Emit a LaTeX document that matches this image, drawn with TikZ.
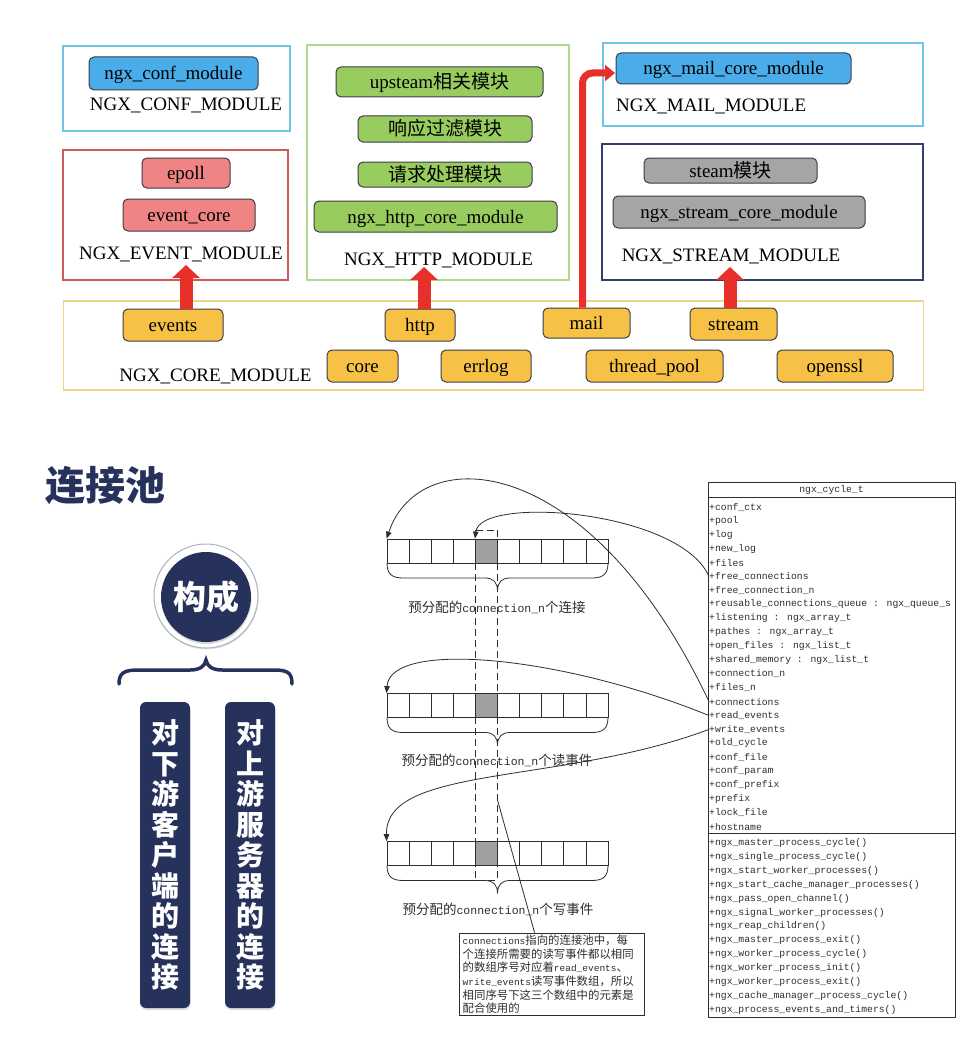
\documentclass[tikz,border=0pt]{standalone}
\usepackage{fontspec}
\setmainfont{Liberation Serif}
\newfontfamily\cjk{Noto Sans CJK SC}
\newfontfamily\monofont{Liberation Mono}
\usetikzlibrary{arrows.meta,shadows}
\definecolor{navy}{HTML}{27325C}
\definecolor{confborder}{HTML}{72C3E6}
\definecolor{evborder}{HTML}{D05A5A}
\definecolor{httpborder}{HTML}{B3D98F}
\definecolor{strborder}{HTML}{33406E}
\definecolor{coreborder}{HTML}{F3D28A}
\definecolor{bluefill}{HTML}{4AADE9}
\definecolor{pinkfill}{HTML}{F08484}
\definecolor{greenfill}{HTML}{98CC5E}
\definecolor{grayfill}{HTML}{A5A5A5}
\definecolor{orangefill}{HTML}{F6C144}
\definecolor{arrred}{HTML}{E8302A}
\definecolor{boxline}{HTML}{3C3C4C}
\definecolor{inkgray}{HTML}{2E2E2E}
\definecolor{cellgray}{HTML}{A0A0A0}
\definecolor{ringgray}{HTML}{AAB0C4}
\newcommand{\mcode}[1]{{\monofont\fontsize{9.5}{13.7}\selectfont #1}}
\newcommand{\mlbl}[1]{{\monofont\fontsize{11.5}{14}\selectfont #1}}
\tikzset{
  sz/.style 2 args={minimum width=#1pt,minimum height=#2pt},
  cont/.style={draw, line width=1.1pt, inner sep=0pt},
  mbox/.style={rounded corners=5pt, draw=boxline, line width=1pt, inner sep=0pt,
    text height=14.5pt, text depth=1.5pt, font=\fontsize{19}{21}\selectfont},
  modlbl/.style={inner sep=0pt, text height=14.5pt, text depth=1.5pt,
    font=\fontsize{19}{21}\selectfont},
  bigred/.style={draw=arrred, line width=13pt, -{Triangle[width=27pt,length=13pt]}},
  thinred/.style={draw=arrred, line width=7pt, rounded corners=10pt,
    -{Triangle[width=16pt,length=10pt]}},
  cell/.style={draw=inkgray, line width=0.8pt, inner sep=0pt, sz={22.1}{24}},
  ptr/.style={draw=inkgray, line width=0.8pt, -{Triangle[width=5.5pt,length=7pt]}},
  dashline/.style={draw=inkgray, line width=0.8pt, dash pattern=on 7pt off 4pt},
  row/.style={anchor=west, inner sep=0pt, text=inkgray,
    font=\monofont\fontsize{9.75}{11}\selectfont},
  arrlbl/.style={inner sep=0pt, text=inkgray, font=\cjk\fontsize{13.5}{15}\selectfont},
  vbox/.style={rounded corners=6pt, fill=navy, sz={50}{306}, inner sep=0pt,
    drop shadow={opacity=0.25, shadow xshift=0.5pt, shadow yshift=-2pt}},
  vtxt/.style={text=white, align=center, inner sep=0pt,
    font=\cjk\bfseries\fontsize{28}{30.5}\selectfont},
}
\begin{document}
\begin{tikzpicture}[x=1pt,y=-1pt]
\useasboundingbox (0,0) rectangle (978,1054);
\fill[white] (0,0) rectangle (978,1054);

% ---------------- top: module containers ----------------
\node[cont, draw=confborder, sz={227}{85}] (confbox) at (176.5,88.5) {};
\node[mbox, fill=bluefill, sz={169}{33}] (confm) at (173.5,73.5) {ngx\_conf\_module};
\node[modlbl] (conflbl) at (186,104) {NGX\_CONF\_MODULE};

\node[cont, draw=evborder, sz={225}{130}] (evbox) at (175.5,215) {};
\node[mbox, fill=pinkfill, sz={88}{30}] (epoll) at (186,173) {epoll};
\node[mbox, fill=pinkfill, sz={132}{32}] (evcore) at (189,215) {event\_core};
\node[modlbl] (evlbl) at (181,253) {NGX\_EVENT\_MODULE};

\node[cont, draw=httpborder, sz={262}{235}] (httpbox) at (438,162.5) {};
\node[mbox, fill=greenfill, sz={207}{30}] (upst) at (439.5,82) {upsteam{\cjk 相关模块}};
\node[mbox, fill=greenfill, sz={174}{26}] (resp) at (445,129) {{\cjk 响应过滤模块}};
\node[mbox, fill=greenfill, sz={174}{25}] (reqm) at (445,174.5) {{\cjk 请求处理模块}};
\node[mbox, fill=greenfill, sz={243}{31}] (httpcore) at (435.5,216.5) {ngx\_http\_core\_module};
\node[modlbl] (httplbl) at (438.5,259) {NGX\_HTTP\_MODULE};

\node[cont, draw=confborder, sz={320}{83}] (mailbox) at (763,84.5) {};
\node[mbox, fill=bluefill, sz={235}{31}] (mailcore) at (733.5,68.5) {ngx\_mail\_core\_module};
\node[modlbl, anchor=west] (maillbl) at (616,105) {NGX\_MAIL\_MODULE};

\node[cont, draw=strborder, sz={321}{136}] (strbox) at (762.5,212) {};
\node[mbox, fill=grayfill, sz={173}{25}] (steam) at (730.5,170.5) {steam{\cjk 模块}};
\node[mbox, fill=grayfill, sz={252}{32}] (strcore) at (739,212) {ngx\_stream\_core\_module};
\node[modlbl] (strlbl) at (731,255) {NGX\_STREAM\_MODULE};

\node[cont, draw=coreborder, sz={860}{89}] (corebox) at (493.5,345.5) {};
\node[mbox, fill=orangefill, sz={100}{32}] (events) at (173,325) {events};
\node[mbox, fill=orangefill, sz={70}{32}] (http) at (420,325) {http};
\node[mbox, fill=orangefill, sz={87}{30}] (mail) at (586.5,323) {mail};
\node[mbox, fill=orangefill, sz={87}{32}] (stream) at (733.5,324) {stream};
\node[mbox, fill=orangefill, sz={71}{32}] (core) at (362.5,366) {core};
\node[mbox, fill=orangefill, sz={90}{32}] (errlog) at (486,366) {errlog};
\node[mbox, fill=orangefill, sz={137}{32}] (tpool) at (654.5,366) {thread\_pool};
\node[mbox, fill=orangefill, sz={116}{32}] (openssl) at (835,366) {openssl};
\node[modlbl] (corelbl) at (215.5,375) {NGX\_CORE\_MODULE};

% red arrows
\coordinate (evtip) at (186,265);
\coordinate (httip) at (424,267);
\coordinate (sttip) at (730,267);
\coordinate (mailbend) at (582.5,73);
\coordinate (mailtip) at (615,73);
\draw[bigred] (events.north -| evtip) -- (evtip);
\draw[bigred] (http.north -| httip) -- (httip);
\draw[bigred] (stream.north -| sttip) -- (sttip);
\draw[thinred] (mail.north -| mailbend) -- (mailbend) -- (mailtip);

% ---------------- bottom left ----------------
\node[inner sep=0pt, text=navy, font=\cjk\bfseries\fontsize{40}{44}\selectfont] (title) at (105,486) {连接池};
\node[circle, draw=ringgray, line width=1pt, fill=white, minimum size=104pt,
  drop shadow={opacity=0.2, shadow xshift=0.5pt, shadow yshift=-1.5pt}] (ring) at (206,596) {};
\node[circle, fill=navy, minimum size=90pt, inner sep=0pt, text=white,
  font=\cjk\bfseries\fontsize{33}{36}\selectfont,
  drop shadow={opacity=0.3, shadow xshift=0.5pt, shadow yshift=-2pt}] (gouc) at (206,597) {构成};
\draw[navy, line width=3.5pt, line cap=round]
  (119,684) .. controls (119,673) and (124,670) .. (138,670) -- (190,670)
  .. controls (200,670) and (205,666) .. (206,660)
  .. controls (207,666) and (212,670) .. (222,670) -- (274,670)
  .. controls (288,670) and (292,673) .. (292,684);
\node[vbox] (down) at (165,855) {};
\node[vtxt] (downt) at (165,855) {对\\下\\游\\客\\户\\端\\的\\连\\接};
\node[vbox] (up) at (250,855) {};
\node[vtxt] (upt) at (250,855) {对\\上\\游\\服\\务\\器\\的\\连\\接};

% ---------------- bottom middle: arrays ----------------
\foreach \a/\yy in {1/551,2/705.5,3/853.5}{
  \foreach \i in {0,...,9}{
    \ifnum\i=4 \def\cf{cellgray}\else\def\cf{white}\fi
    \node[cell, fill=\cf] (c\a-\i) at ({387+22.1*(\i+0.5)},\yy) {};
  }
}
\foreach \yb in {563,717.5,865.5}{
  \draw[inkgray, line width=0.8pt]
    (387,\yb) .. controls (387,\yb+11) and (392,\yb+15) .. (403,\yb+15) -- (485,\yb+15)
    .. controls (493,\yb+15) and (497.5,\yb+19) .. (497.5,\yb+28)
    .. controls (497.5,\yb+19) and (502,\yb+15) .. (510,\yb+15) -- (592,\yb+15)
    .. controls (603,\yb+15) and (608,\yb+11) .. (608,\yb);
}
\node[arrlbl] (lab1) at (497,607) {预分配的\mlbl{connection\_n}个连接};
\node[arrlbl] (lab2) at (497,760) {预分配的\mlbl{connection\_n}个读事件};
\node[arrlbl] (lab3) at (498,909) {预分配的\mlbl{connection\_n}个写事件};

\coordinate (dtl) at (475.4,530);
\coordinate (dbr) at (497.5,880);
\draw[dashline] (dtl) rectangle (dbr);

% ---------------- ngx_cycle_t ----------------
\node[draw=inkgray, line width=1pt, sz={247}{535}, inner sep=0pt] (cyc) at (831.5,749.5) {};
\path (cyc.north west) ++(0,16) coordinate (h1);
\path (cyc.north west) ++(0,352) coordinate (h2);
\draw[inkgray, line width=1pt] (h1) -- (h1 -| cyc.east);
\draw[inkgray, line width=1pt] (h2) -- (h2 -| cyc.east);
\node[inner sep=0pt, text=inkgray, font=\monofont\fontsize{9.75}{11}\selectfont] (cyct) at (831.5,490) {ngx\_cycle\_t};
\foreach \t [count=\i from 0] in {conf\_ctx, pool, log, new\_log, files, free\_connections,
  free\_connection\_n, reusable\_connections\_queue : ngx\_queue\_s, listening : ngx\_array\_t,
  pathes : ngx\_array\_t, open\_files : ngx\_list\_t, shared\_memory : ngx\_list\_t,
  connection\_n, files\_n, connections, read\_events, write\_events, old\_cycle, conf\_file,
  conf\_param, conf\_prefix, prefix, lock\_file, hostname}{
  \node[row] (r\i) at (709,{507+13.9*\i}) {+\t};
}
\foreach \t [count=\i from 0] in {ngx\_master\_process\_cycle(), ngx\_single\_process\_cycle(),
  ngx\_start\_worker\_processes(), ngx\_start\_cache\_manager\_processes(),
  ngx\_pass\_open\_channel(), ngx\_signal\_worker\_processes(), ngx\_reap\_children(),
  ngx\_master\_process\_exit(), ngx\_worker\_process\_cycle(), ngx\_worker\_process\_init(),
  ngx\_worker\_process\_exit(), ngx\_cache\_manager\_process\_cycle(),
  ngx\_process\_events\_and\_timers()}{
  \node[row] (m\i) at (709,{843+13.9*\i}) {+\t};
}

% connectors from ngx_cycle_t to arrays
\draw[ptr] (r5.west) .. controls (680,510) and (480,495) .. (c1-4.north west);
\draw[ptr] (r14.west) .. controls (590,450) and (420,440) .. (c1-0.north west);
\draw[ptr] (r15.west) .. controls (560,655) and (390,640) .. (c2-0.north west);
\draw[ptr] (r16.west) .. controls (560,785) and (385,765) .. (c3-0.north west);

% annotation
\node[draw=inkgray, line width=0.9pt, sz={185}{82}, inner sep=0pt] (note) at (551.5,974) {};
\node[anchor=north west, align=left, inner sep=0pt, text=inkgray,
  font=\cjk\fontsize{11.4}{13.7}\selectfont] (notetxt) at (462.5,934.5)
  {\mcode{connections}指向的连接池中，每\\
   个连接所需要的读写事件都以相同\\
   的数组序号对应着\mcode{read\_events}、\\
   \mcode{write\_events}读写事件数组，所以\\
   相同序号下这三个数组中的元素是\\
   配合使用的};
\coordinate (ptrstart) at (497.5,800);
\path (note.north west) ++(76,0) coordinate (notehook);
\draw[inkgray, line width=0.8pt] (ptrstart) -- (notehook);
\end{tikzpicture}
\end{document}
